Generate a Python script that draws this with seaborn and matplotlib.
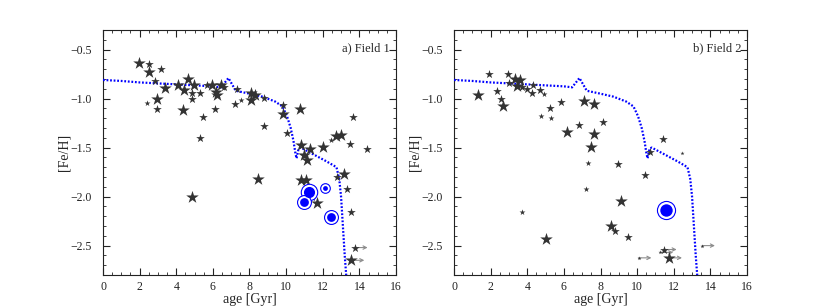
import matplotlib
matplotlib.use("Agg")
import matplotlib.pyplot as plt
import seaborn as sns
import pandas as pd
from matplotlib.ticker import MultipleLocator

# star size class: 4 = big, 3 = medium, 2 = small, 1 = tiny
f1_age = [1.94, 2.53, 2.49, 3.15, 2.82, 3.37, 2.38, 2.95, 2.95, 4.38, 4.08, 4.63, 4.41,
          4.96, 4.87, 5.29, 4.87, 5.46, 5.29, 6.12, 5.93, 6.15, 6.25, 6.43, 5.70, 6.61,
          7.20, 7.34, 7.56, 8.08, 8.30, 8.08, 8.77, 8.77, 9.82, 9.82, 10.07, 10.77, 13.64,
          13.48, 12.01, 12.47, 12.70, 12.98, 10.80, 11.28, 11.00, 11.15, 14.40, 8.44, 10.79,
          11.10, 12.78, 13.17, 13.33, 11.41, 11.69, 13.57, 13.75, 13.57, 4.87]
f1_feh = [-0.64, -0.65, -0.73, -0.70, -0.82, -0.89, -1.05, -1.00, -1.11, -1.12, -0.86, -0.80, -0.91,
          -0.86, -0.94, -0.94, -1.00, -1.19, -1.40, -1.11, -0.86, -0.93, -0.96, -0.86, -0.86, -0.88,
          -1.06, -0.90, -1.01, -0.94, -0.96, -1.01, -0.99, -1.28, -1.07, -1.16, -1.35, -1.11, -1.19,
          -1.46, -1.49, -1.42, -1.38, -1.37, -1.47, -1.51, -1.58, -1.63, -1.51, -1.82, -1.83,
          -1.83, -1.80, -1.77, -1.92, -2.00, -2.07, -2.16, -2.52, -2.65, -2.00]
f1_size = [4, 3, 4, 3, 3, 4, 2, 4, 3, 4, 4, 4, 4,
           4, 3, 3, 3, 3, 3, 3, 4, 4, 4, 4, 3, 3,
           3, 3, 2, 4, 4, 4, 3, 3, 3, 4, 3, 4, 3,
           3, 4, 2, 4, 4, 4, 4, 4, 4, 3, 4, 4,
           4, 3, 4, 3, 3, 4, 3, 3, 4, 4]
f1_limit = [False] * 58 + [True, True, False]

f1_circ_age = [11.23, 12.11, 10.97, 12.47]
f1_circ_feh = [-1.95, -1.91, -2.055, -2.21]
f1_circ_size = [3, 1, 2, 2]

f2_age = [1.91, 1.33, 2.33, 2.56, 2.69, 2.96, 3.32, 3.60, 3.01, 3.42, 3.69, 3.96, 4.32,
          4.27, 4.69, 4.90, 4.74, 5.23, 5.27, 5.83, 6.18, 6.83, 7.08, 7.67, 8.14, 7.63,
          7.50, 7.32, 8.97, 10.41, 7.21, 9.14, 3.72, 5.01, 8.59, 8.81, 9.50, 11.41, 12.44,
          10.68, 10.08, 11.27, 11.46, 11.75, 13.55]
f2_feh = [-0.75, -0.96, -0.92, -1.00, -1.08, -0.75, -0.80, -0.81, -0.84, -0.87, -0.88, -0.90, -0.86,
          -0.94, -0.91, -0.95, -1.18, -1.10, -1.20, -1.03, -1.34, -1.27, -1.02, -1.06, -1.24, -1.36,
          -1.49, -1.66, -1.67, -1.78, -1.92, -2.04, -2.16, -2.43, -2.30, -2.35, -2.41, -1.41, -1.555,
          -1.55, -2.625, -2.57, -2.54, -2.625, -2.50]
f2_size = [3, 4, 3, 3, 4, 3, 4, 4, 3, 4, 3, 3, 3,
           3, 3, 2, 2, 3, 2, 3, 4, 3, 4, 4, 3, 4,
           4, 2, 3, 3, 2, 4, 2, 4, 4, 3, 3, 3, 1,
           3, 1, 1, 3, 4, 1]
f2_limit = [False] * 40 + [True, True, True, True, True]

f2_circ_age = [11.59]
f2_circ_feh = [-2.14]
f2_circ_size = [4]

# chemical evolution model track
model_age = [0.0, 1.0, 2.0, 3.0, 4.0, 5.0, 6.0, 6.45, 6.85, 7.25, 8.0, 8.7, 9.4, 9.8,
             10.05, 10.25, 10.4, 10.5, 10.57, 10.68, 10.8, 11.2, 11.6, 12.2, 12.75,
             12.9, 13.0, 13.1, 13.2, 13.28]
model_feh = [-0.81, -0.82, -0.835, -0.845, -0.855, -0.865, -0.875, -0.885, -0.79, -0.92, -0.95,
             -0.98, -1.03, -1.08, -1.18, -1.30, -1.43, -1.55, -1.61, -1.51, -1.50, -1.54,
             -1.58, -1.64, -1.70, -1.82, -2.00, -2.30, -2.60, -2.80]

panel_labels = ["a) Field 1", "b) Field 2"]

sns.set_style("ticks")
plt.rcParams["font.family"] = ["Liberation Serif", "DejaVu Serif"]

star_s = {1: 9, 2: 20, 3: 42, 4: 90}
circ_s = {1: (48, 12), 2: (100, 40), 3: (140, 64), 4: (170, 80)}

fig = plt.figure(figsize=(8.3, 3.06), dpi=100)
ax1 = fig.add_axes([0.1241, 0.1013, 0.353, 0.8007])
ax2 = fig.add_axes([0.547, 0.1013, 0.353, 0.8007])

panels = [
    (ax1, f1_age, f1_feh, f1_size, f1_limit, f1_circ_age, f1_circ_feh, f1_circ_size),
    (ax2, f2_age, f2_feh, f2_size, f2_limit, f2_circ_age, f2_circ_feh, f2_circ_size),
]

for i, (ax, age, feh, size, limit, c_age, c_feh, c_size) in enumerate(panels):
    stars = pd.DataFrame({"age": age, "feh": feh, "size": size, "limit": limit})

    # lower age limits as grey arrows
    for _, r in stars[stars["limit"]].iterrows():
        ax.annotate("", xy=(r["age"] + 0.7, r["feh"]), xytext=(r["age"], r["feh"]),
                    arrowprops=dict(arrowstyle="->", color="#8c8c8c", lw=0.8,
                                    mutation_scale=6, shrinkA=0, shrinkB=0), zorder=2)

    sns.lineplot(x=model_age, y=model_feh, ax=ax, color="blue", lw=1.6,
                 linestyle=(0, (0.8, 0.8)), sort=False, estimator=None, zorder=3)

    for k, grp in stars.groupby("size"):
        sns.scatterplot(data=grp, x="age", y="feh", ax=ax, marker="*", s=star_s[k],
                        color="#333333", linewidth=0, zorder=4)

    for a, f, k in zip(c_age, c_feh, c_size):
        outer, inner = circ_s[k]
        ax.scatter([a], [f], s=outer, facecolor="white", edgecolor="blue", lw=0.8, zorder=5)
        ax.scatter([a], [f], s=inner, color="blue", lw=0, zorder=6)

    ax.set_xlim(0, 16)
    ax.set_ylim(-2.8, -0.3)
    ax.xaxis.set_major_locator(MultipleLocator(2))
    ax.xaxis.set_minor_locator(MultipleLocator(0.5))
    ax.yaxis.set_major_locator(MultipleLocator(0.5))
    ax.yaxis.set_minor_locator(MultipleLocator(0.1))
    ax.tick_params(which="both", direction="in", top=True, right=True, colors="#222222",
                   labelsize=8.5)
    ax.tick_params(which="major", length=5, width=0.8)
    ax.tick_params(which="minor", length=2.5, width=0.6)
    ax.tick_params(axis="y", pad=8)
    ax.tick_params(axis="x", pad=4)
    for sp in ax.spines.values():
        sp.set_linewidth(0.8)
        sp.set_color("#222222")
    ax.set_xlabel("age [Gyr]", fontsize=10, labelpad=0)
    ax.set_ylabel("[Fe/H]", fontsize=10, labelpad=0)
    ax.text(0.98, 0.925, panel_labels[i], transform=ax.transAxes, ha="right", va="center",
            fontsize=9)

fig.savefig("out.png", dpi=100)
